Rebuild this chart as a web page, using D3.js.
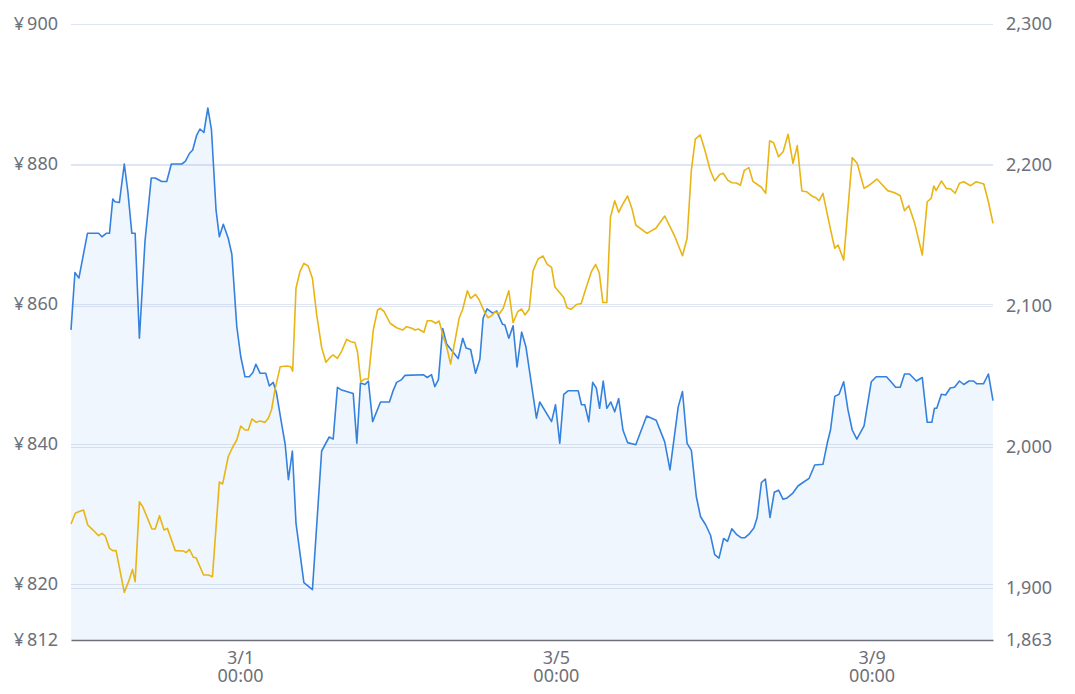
<!DOCTYPE html>
<html><head><meta charset="utf-8">
<script src="https://cdn.jsdelivr.net/npm/d3@7/dist/d3.min.js"></script>
<style>
body{margin:0;background:#fff}
text{font-family:"Noto Sans","Noto Sans CJK SC",sans-serif;}
</style>
</head><body>
<svg id="chart" width="1075" height="694"></svg>
<script>
// time values are hours relative to 3/1 00:00
const baseDate = new Date(2023, 2, 1, 0, 0);

const blueHours = [-51.4,-50.2,-49.0,-46.4,-43.0,-42.0,-40.7,-39.7,-38.7,-38.0,-36.7,-35.2,-34.1,-32.9,-31.9,-30.6,-28.9,-27.0,-25.8,-23.8,-22.3,-20.9,-17.7,-16.6,-15.4,-14.4,-13.2,-12.2,-11.0,-9.8,-8.7,-7.3,-6.3,-5.1,-3.6,-2.5,-1.0,0.2,1.5,2.8,3.9,4.8,6.1,7.8,8.9,10.1,11.1,12.7,13.7,14.7,15.9,17.0,19.4,22.0,24.8,27.1,28.3,29.6,30.9,34.4,35.5,36.6,38.0,39.0,40.3,42.7,45.4,46.6,47.6,49.1,50.1,55.7,56.9,58.2,59.2,60.3,61.6,62.8,64.3,66.3,67.7,68.7,70.1,71.6,72.9,73.9,75.1,76.8,78.0,79.8,80.5,81.7,83.0,84.2,85.6,86.9,90.1,91.1,94.7,95.9,97.2,98.4,99.7,102.8,103.8,104.8,106.0,107.2,108.3,109.3,110.4,111.5,112.7,113.9,115.1,116.4,117.8,120.3,123.6,126.5,129.1,130.7,133.2,134.5,135.9,137.2,138.7,140.0,141.5,143.0,144.3,145.6,147.0,148.2,149.5,150.9,152.4,153.4,154.9,156.2,157.2,158.5,159.7,161.1,162.4,163.7,165.1,166.3,167.9,169.6,171.1,173.0,174.7,177.2,178.5,179.5,180.8,182.1,183.5,184.8,186.1,187.5,189.7,191.9,193.4,196.5,197.7,199.3,200.7,202.0,203.5,205.6,207.4,208.9,210.3,211.1,211.8,213.2,214.5,215.9,217.2,218.7,220.0,221.6,223.0,224.0,226.0,227.5,228.9];
const blueValues = [856.3,864.5,863.7,870.1,870.1,869.6,870.1,870.1,875.0,874.6,874.5,880.0,876.0,870.1,870.1,855.1,869.0,878.0,878.0,877.5,877.5,880.0,880.0,880.4,881.5,882.0,884.1,885.0,884.5,888.0,884.9,873.4,869.6,871.4,869.4,867.1,856.8,852.5,849.6,849.6,850.2,851.4,850.1,850.1,848.3,848.8,847.2,842.7,840.0,834.9,839.0,828.7,820.2,819.2,839.0,841.0,840.7,848.1,847.7,847.2,840.1,848.7,848.5,849.0,843.2,846.0,846.0,847.7,848.8,849.2,849.8,849.9,849.5,849.9,848.2,849.2,856.5,854.3,853.4,852.2,855.1,853.7,853.5,850.1,852.1,858.0,859.3,858.7,859.0,857.1,857.0,855.1,856.9,851.0,856.0,853.9,843.7,846.0,843.2,845.6,840.1,847.1,847.6,847.6,845.6,845.6,843.2,848.8,848.0,845.1,849.0,845.1,846.0,844.6,846.5,842.0,840.2,839.9,844.0,843.4,840.3,836.3,845.3,847.5,840.1,839.1,832.5,829.6,828.5,827.0,824.2,823.7,826.5,826.1,827.9,827.1,826.6,826.6,827.2,828.0,829.5,834.5,835.0,829.5,833.1,833.4,832.1,832.3,832.9,834.0,834.5,835.1,837.0,837.1,840.1,842.0,846.8,847.1,848.9,844.9,842.0,840.7,842.6,848.9,849.6,849.6,849.0,848.1,848.1,850.0,850.0,849.0,849.5,843.1,843.1,845.1,845.1,847.1,847.0,848.0,848.1,849.0,848.5,849.0,849.0,848.6,848.6,850.0,846.2];

const goldHours = [-51.4,-50.1,-49.1,-47.6,-46.3,-44.7,-43.0,-42.0,-41.0,-39.7,-38.7,-37.7,-35.2,-33.9,-32.7,-31.9,-30.6,-29.6,-26.8,-25.8,-24.5,-23.1,-22.1,-19.7,-17.2,-16.4,-15.4,-14.2,-13.4,-11.1,-9.6,-8.4,-6.3,-5.3,-3.6,-2.2,-1.0,0.2,1.5,2.5,3.6,4.9,6.1,7.6,8.6,9.6,10.6,12.2,14.2,15.4,16.0,17.0,18.2,19.4,20.7,22.0,23.3,24.8,26.1,27.3,28.3,29.6,30.9,32.4,33.7,34.9,35.7,36.7,38.0,39.0,40.5,41.8,42.7,43.8,45.6,47.6,49.4,50.6,52.2,53.2,54.2,55.9,56.9,58.2,59.5,60.5,61.8,62.8,64.0,65.0,66.6,67.7,69.1,70.1,71.6,72.7,74.4,75.4,76.5,77.5,78.8,80.0,81.7,83.0,84.4,85.6,86.6,87.9,89.1,90.6,92.1,93.4,94.7,95.7,97.2,98.4,99.4,100.6,102.3,103.7,105.3,106.8,108.1,109.2,110.3,111.5,112.6,113.9,115.1,116.3,117.8,119.2,120.3,123.7,126.4,129.1,132.2,134.5,135.9,137.2,138.4,139.9,141.3,142.9,144.3,145.8,146.9,148.3,149.6,150.9,152.1,153.3,154.7,155.9,158.5,159.8,161.0,162.2,163.7,165.1,166.6,168.1,169.4,170.8,172.2,173.7,175.0,176.0,177.2,178.4,180.2,180.8,181.8,183.5,186.1,187.6,189.7,191.4,193.6,195.3,196.9,199.0,200.7,202.0,203.3,205.1,207.4,208.9,210.1,210.9,211.6,213.2,214.7,216.0,217.4,218.7,220.0,222.1,223.8,226.1,227.5,228.9];
const goldValues = [1945.3,1952.9,1954.0,1955.2,1944.6,1941.0,1937.0,1938.7,1936.8,1928.0,1926.4,1926.4,1896.8,1904.4,1913.1,1904.4,1961.1,1957.6,1941.7,1941.7,1951.2,1941.0,1942.2,1926.4,1926.1,1925.0,1927.3,1921.7,1921.4,1909.1,1909.1,1907.9,1975.1,1973.7,1993.0,2000.1,2004.9,2014.8,2012.0,2012.0,2019.8,2017.4,2018.4,2017.4,2020.3,2026.7,2040.4,2056.9,2057.4,2056.9,2053.8,2112.5,2124.3,2130.2,2128.3,2119.6,2093.6,2070.6,2060.0,2063.3,2065.2,2062.8,2068.0,2076.3,2074.6,2074.0,2067.3,2046.3,2048.2,2048.2,2082.9,2097.1,2098.3,2095.9,2087.7,2084.5,2082.9,2085.3,2084.1,2082.9,2083.6,2081.3,2089.5,2089.5,2087.7,2089.3,2078.2,2071.1,2058.8,2071.1,2091.2,2097.8,2110.8,2105.4,2108.2,2104.2,2095.2,2091.6,2093.1,2095.9,2094.3,2098.3,2110.8,2088.1,2095.9,2097.8,2093.6,2097.6,2125.0,2133.3,2135.4,2129.5,2127.4,2113.6,2109.4,2106.0,2098.7,2097.6,2101.0,2101.7,2113.6,2124.3,2129.4,2123.5,2102.4,2102.4,2162.9,2174.6,2166.4,2172.1,2178.0,2168.5,2157.4,2151.5,2155.1,2163.8,2149.1,2135.6,2148.0,2196.4,2218.4,2221.3,2210.6,2196.4,2188.6,2193.2,2194.1,2189.1,2187.4,2187.2,2185.6,2196.2,2198.1,2188.4,2184.2,2179.9,2217.2,2215.8,2205.9,2209.4,2221.8,2201.2,2213.7,2181.5,2181.0,2178.2,2176.8,2174.6,2179.9,2166.4,2146.8,2140.9,2143.2,2132.6,2205.2,2201.2,2183.4,2185.8,2190.0,2185.8,2181.8,2180.3,2178.2,2167.5,2171.1,2158.6,2136.1,2173.9,2176.3,2185.1,2181.8,2188.6,2183.4,2183.0,2179.9,2187.0,2188.1,2185.3,2188.1,2186.5,2173.9,2158.6];

const leftTicks = [812, 820, 840, 860, 880, 900];
const rightTicks = [1863, 1900, 2000, 2100, 2200, 2300];
const xTickHours = [0, 96, 192];

const toDate = h => new Date(baseDate.getTime() + h * 3600000);
const blue = blueHours.map((h, i) => ({t: toDate(h), v: blueValues[i]}));
const gold = goldHours.map((h, i) => ({t: toDate(h), v: goldValues[i]}));

const M = {left: 71, right: 993, top: 24, bottom: 640};
const svg = d3.select("#chart");

const x = d3.scaleTime().domain([toDate(blueHours[0]), toDate(blueHours[blueHours.length-1])]).range([M.left, M.right]);
const yL = d3.scaleLinear().domain([812, 900]).range([M.bottom, M.top]);
const yR = d3.scaleLinear().domain([1863, 2300]).range([M.bottom, M.top]);

// grid lines
const gridColor = "#e0e6f1";
svg.append("g").selectAll("line").data(leftTicks.filter(d => d !== 812)).join("line")
  .attr("x1", M.left).attr("x2", M.right)
  .attr("y1", d => Math.round(yL(d)) + 0.5).attr("y2", d => Math.round(yL(d)) + 0.5)
  .attr("stroke", gridColor).attr("stroke-width", 1);
svg.append("g").selectAll("line").data(rightTicks.filter(d => d !== 1863)).join("line")
  .attr("x1", M.left).attr("x2", M.right)
  .attr("y1", d => Math.round(yR(d)) + 0.5).attr("y2", d => Math.round(yR(d)) + 0.5)
  .attr("stroke", gridColor).attr("stroke-width", 1);

// blue area + line
const area = d3.area().x(d => x(d.t)).y0(M.bottom).y1(d => yL(d.v));
svg.append("path").datum(blue).attr("d", area).attr("fill", "rgba(56,140,230,0.075)");
const lineB = d3.line().x(d => x(d.t)).y(d => yL(d.v));
svg.append("path").datum(blue).attr("d", lineB).attr("fill", "none")
  .attr("stroke", "#3481de").attr("stroke-width", 1.6).attr("stroke-linejoin", "round");
const lineG = d3.line().x(d => x(d.t)).y(d => yR(d.v));
svg.append("path").datum(gold).attr("d", lineG).attr("fill", "none")
  .attr("stroke", "#e8b514").attr("stroke-width", 1.6).attr("stroke-linejoin", "round");

// axes
const labelColor = "#6e7079";
const fs = "18px";
const axL = svg.append("g").attr("transform", `translate(${M.left},0)`)
  .call(d3.axisLeft(yL).tickValues(leftTicks).tickSize(0).tickPadding(13).tickFormat(d => d));
axL.select(".domain").remove();
axL.selectAll("text").attr("fill", labelColor).style("font-size", fs).attr("dy", null).attr("y", 5.5)
  .text(null).each(function(d){
    const t = d3.select(this);
    t.append("tspan").text("¥");
    t.append("tspan").attr("dx", 3).text(d);
  });

const axR = svg.append("g").attr("transform", `translate(${M.right},0)`)
  .call(d3.axisRight(yR).tickValues(rightTicks).tickSize(0).tickPadding(13).tickFormat(d3.format(",")));
axR.select(".domain").remove();
axR.selectAll("text").attr("fill", labelColor).style("font-size", fs).attr("dy", null).attr("y", 5.5);

const axB = svg.append("g").attr("transform", `translate(0,${M.bottom})`)
  .call(d3.axisBottom(x).tickValues(xTickHours.map(toDate)).tickSize(0).tickFormat(d3.timeFormat("%-m/%-d")));
axB.select(".domain").attr("stroke", "#6e7079").attr("stroke-width", 1.4);
axB.selectAll("text").attr("fill", labelColor).style("font-size", fs).attr("dy", null).attr("y", 0)
  .text(null).each(function(d){
    const t = d3.select(this);
    t.append("tspan").attr("x", 0).attr("y", 24.3).text(d3.timeFormat("%-m/%-d")(d));
    t.append("tspan").attr("x", 0).attr("y", 42.3).text(d3.timeFormat("%H:%M")(d));
  });
</script>
</body></html>
